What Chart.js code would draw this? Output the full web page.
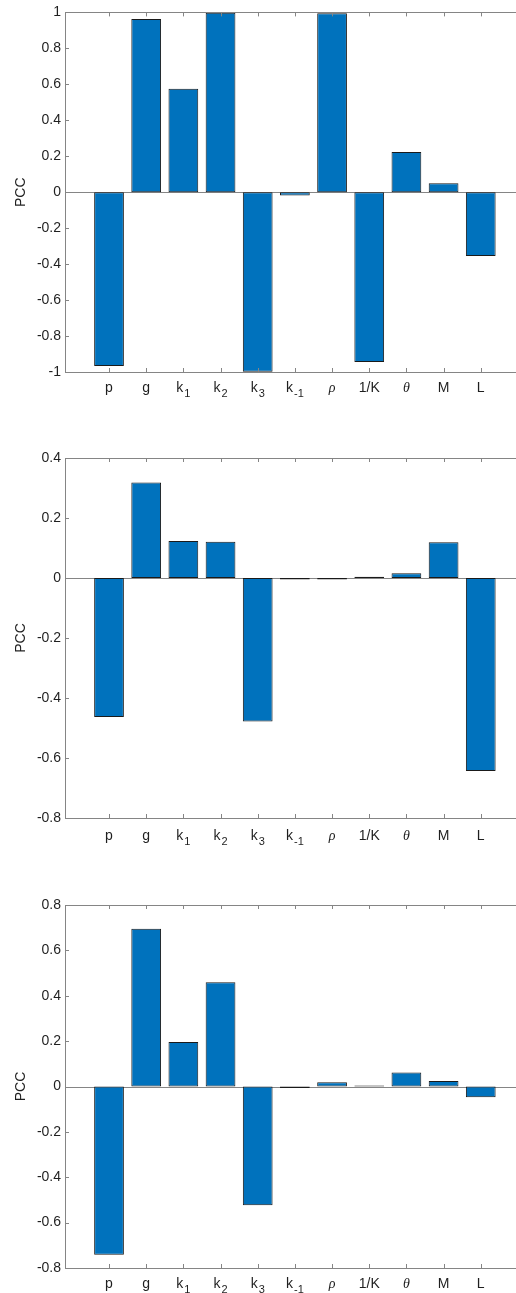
<!DOCTYPE html>
<html>
<head>
<meta charset="utf-8">
<script src="https://cdn.jsdelivr.net/npm/chart.js@4.4.0/dist/chart.umd.min.js"></script>
<style>
  html, body { margin: 0; padding: 0; background: #fff; overflow: hidden; width: 516px; height: 1293px; }
  canvas { position: absolute; left: 0; }
</style>
</head>
<body>
<canvas id="pcc1" width="525" height="412" style="top:0px"></canvas>
<canvas id="pcc2" width="525" height="428" style="top:430px"></canvas>
<canvas id="pcc3" width="525" height="428" style="top:880px"></canvas>
<script>
// parameter names on the x axis (base letter + subscript)
const paramBase = ['p', 'g', 'k', 'k', 'k', 'k', 'ρ', '1/K', 'θ', 'M', 'L'];
const paramSub = ['', '', '1', '2', '3', '-1', '', '', '', '', ''];
const italicParams = ['ρ', 'θ'];

// PCC values
const pcc1 = [-0.967, 0.963, 0.575, 0.998, -0.999, -0.018, 0.995, -0.945, 0.223, 0.05, -0.355];
const pcc2 = [-0.463, 0.318, 0.123, 0.121, -0.478, -0.005, -0.005, 0.004, 0.016, 0.119, -0.643];
const pcc3 = [-0.742, 0.695, 0.196, 0.46, -0.523, -0.007, 0.019, 0.004, 0.062, 0.024, -0.047];

// y limits of each panel
const yRange1 = [-1, 1];
const yRange2 = [-0.8, 0.4];
const yRange3 = [-0.8, 0.8];
const yStep = 0.2;

const barBlue = '#0072BD';
const axisGray = '#858585';
const textGray = '#1f1f1f';
const fontFamily = "'Liberation Sans', Arial, sans-serif";
const serifFamily = "'Liberation Serif', 'DejaVu Serif', serif";

// baseline, box top, inward tick marks and the x labels with subscripts
const frame = {
  id: 'frame',
  beforeDatasetsDraw(chart) {
    const {ctx, chartArea: a, scales: {y}} = chart;
    const y0 = Math.round(y.getPixelForValue(0)) + 0.5;
    ctx.save();
    ctx.strokeStyle = axisGray;
    ctx.lineWidth = 1;
    ctx.beginPath();
    ctx.moveTo(a.left, y0);
    ctx.lineTo(a.right, y0);
    ctx.stroke();
    ctx.restore();
  },
  afterDraw(chart, args, opts) {
    const {ctx, chartArea: a, scales: {x, y}} = chart;
    ctx.save();
    ctx.strokeStyle = axisGray;
    ctx.lineWidth = 1;
    ctx.beginPath();
    ctx.moveTo(a.left, Math.round(a.top) + 0.5);
    ctx.lineTo(a.right, Math.round(a.top) + 0.5);
    x.ticks.forEach(t => {
      const px = Math.round(x.getPixelForValue(t.value)) + 0.5;
      ctx.moveTo(px, a.bottom); ctx.lineTo(px, a.bottom - 4);
      ctx.moveTo(px, a.top); ctx.lineTo(px, a.top + 4);
    });
    y.ticks.forEach(t => {
      const py = Math.round(y.getPixelForValue(t.value)) + 0.5;
      ctx.moveTo(a.left, py); ctx.lineTo(a.left + 4, py);
    });
    ctx.stroke();

    // x labels
    ctx.fillStyle = textGray;
    ctx.textAlign = 'left';
    ctx.textBaseline = 'alphabetic';
    const baseY = a.bottom + opts.labelOffset;
    x.ticks.forEach(t => {
      const i = t.value - 1;
      const base = paramBase[i], sub = paramSub[i];
      const italic = italicParams.includes(base);
      const baseFont = italic ? 'italic 14px ' + serifFamily : '14px ' + fontFamily;
      const subFont = '11px ' + fontFamily;
      ctx.font = baseFont;
      const wb = ctx.measureText(base).width;
      ctx.font = subFont;
      const ws = sub ? ctx.measureText(sub).width + 1 : 0;
      const left = x.getPixelForValue(t.value) - (wb + ws) / 2;
      ctx.font = baseFont;
      ctx.fillText(base, left, baseY);
      if (sub) {
        ctx.font = subFont;
        ctx.fillText(sub, left + wb + 1, baseY + 5);
      }
    });
    ctx.restore();
  }
};

function makeChart(id, values, yRange, padTop, labelOffset) {
  const ctx = document.getElementById(id).getContext('2d');
  return new Chart(ctx, {
    type: 'bar',
    data: {
      datasets: [{
        label: 'PCC',
        data: values.map((v, i) => ({x: i + 1, y: v})),
        backgroundColor: barBlue,
        borderColor: '#1a1a1a',
        borderWidth: 1,
        borderSkipped: false,
        barPercentage: 0.8,
        categoryPercentage: 1.0
      }]
    },
    options: {
      responsive: false,
      animation: false,
      layout: {padding: {top: padTop, left: 0, right: 0, bottom: 0}},
      plugins: {
        legend: {display: false},
        tooltip: {enabled: false},
        frame: {labelOffset: labelOffset}
      },
      scales: {
        x: {
          type: 'linear',
          offset: false,
          min: -0.184,
          max: 12.19,
          grid: {display: false, offset: false, drawTicks: false},
          border: {display: true, color: axisGray, width: 1},
          afterBuildTicks: s => { s.ticks = paramBase.map((p, i) => ({value: i + 1})); },
          afterFit: s => { s.height = 40; },
          ticks: {display: false}
        },
        y: {
          min: yRange[0],
          max: yRange[1],
          grid: {display: false, drawTicks: false},
          border: {display: true, color: axisGray, width: 1},
          afterFit: s => { s.width = 65; },
          title: {display: true, text: 'PCC', color: textGray,
            font: {family: fontFamily, size: 14}, padding: {top: 13, bottom: 0}},
          ticks: {
            stepSize: yStep,
            padding: 4,
            color: textGray,
            font: {family: fontFamily, size: 14},
            callback: v => String(Math.round(v * 10) / 10)
          }
        }
      }
    },
    plugins: [frame]
  });
}

makeChart('pcc1', pcc1, yRange1, 10, 20);
makeChart('pcc2', pcc2, yRange2, 28, 22);
makeChart('pcc3', pcc3, yRange3, 25, 20);
</script>
</body>
</html>
